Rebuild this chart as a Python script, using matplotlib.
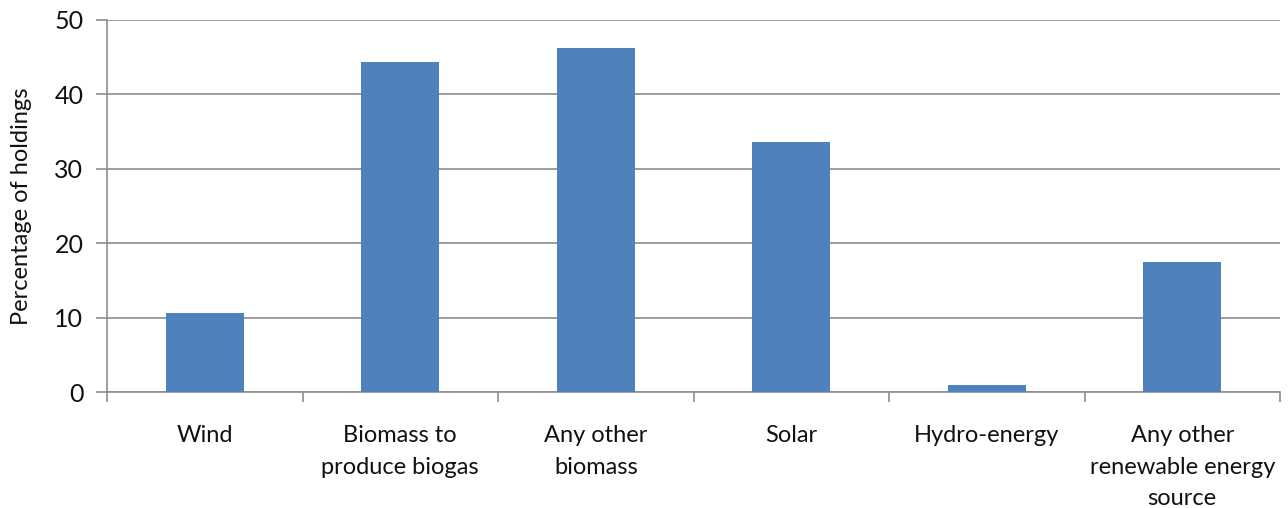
import matplotlib.pyplot as plt
import numpy as np

categories = [
    "Wind",
    "Biomass to\nproduce biogas",
    "Any other\nbiomass",
    "Solar",
    "Hydro-energy",
    "Any other\nrenewable energy\nsource",
]
share = [10.6, 44.4, 46.3, 33.6, 1.0, 17.5]
y_ticks = [0, 10, 20, 30, 40, 50]

plt.rcParams["font.family"] = ["Lato", "DejaVu Sans"]

grey = "#8c8c8c"
fig = plt.figure(figsize=(12.88, 5.08), dpi=100)
ax = fig.add_axes([107 / 1288, 116 / 508, 1173 / 1288, 372 / 508])

x = np.arange(len(categories))
ax.bar(x, share, width=0.4, color="#4f81bd", zorder=3)

ax.set_xlim(-0.5, len(categories) - 0.5)
ax.set_ylim(0, 50)
ax.set_yticks(y_ticks)
ax.yaxis.grid(True, color=grey, linewidth=1.2, zorder=0)

# boundaries get the tick marks, centres get the labels
ax.set_xticks(np.arange(len(categories) + 1) - 0.5)
ax.set_xticklabels([])
ax.set_xticks(x, minor=True)
ax.set_xticklabels(categories, minor=True, fontsize=17, color="#111111",
                   linespacing=1.6, va="top")
ax.tick_params(axis="x", which="minor", length=0, pad=24)
ax.tick_params(axis="x", which="major", length=7, width=1.2, color=grey)
ax.tick_params(axis="y", length=8, width=1.2, color=grey, labelsize=18,
               labelcolor="#111111", pad=9)

for side in ("top", "right"):
    ax.spines[side].set_visible(False)
for side in ("left", "bottom"):
    ax.spines[side].set_color(grey)
    ax.spines[side].set_linewidth(1.2)

ax.set_ylabel("Percentage of holdings", fontsize=17, color="#111111", labelpad=16)

fig.savefig("out.png", dpi=100)
